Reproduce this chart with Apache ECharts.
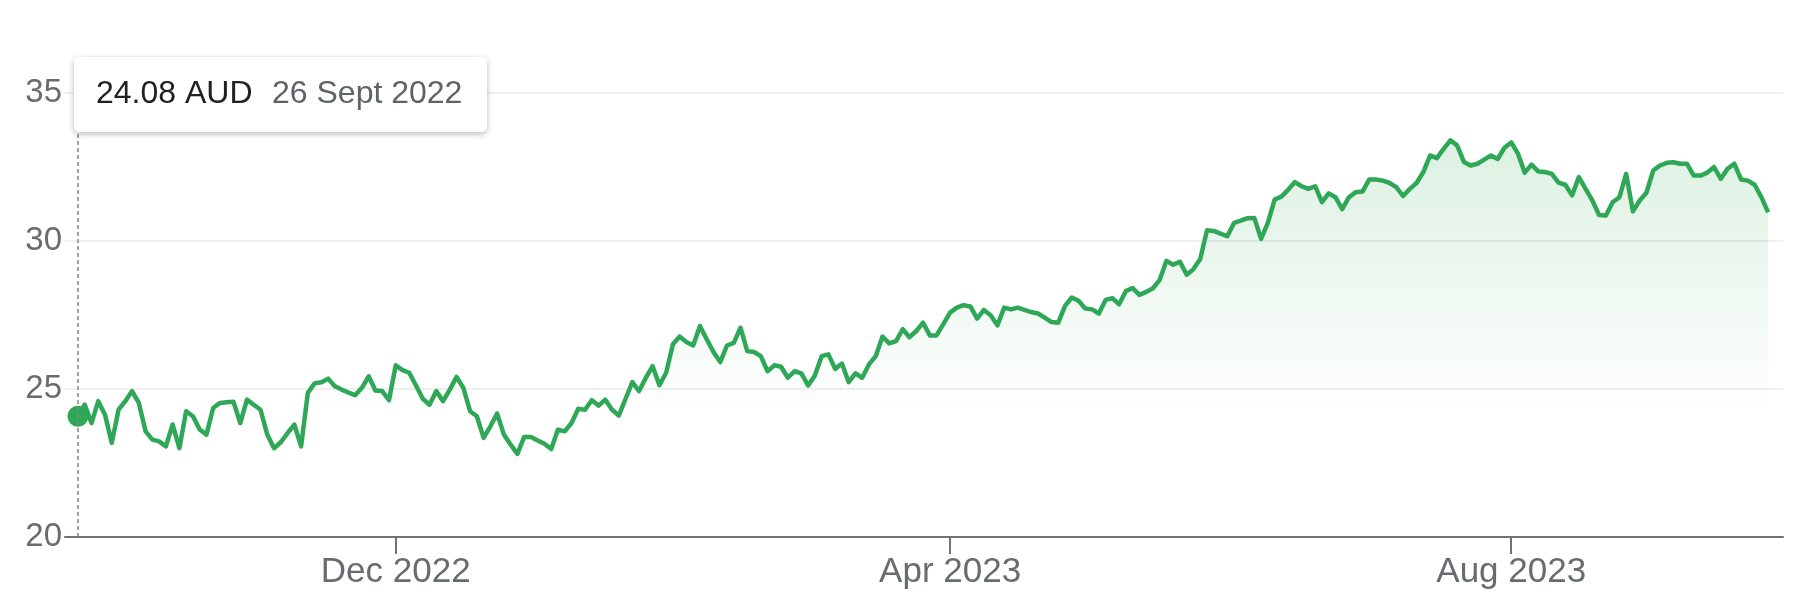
<!DOCTYPE html>
<html>
<head>
<meta charset="utf-8">
<title>AUD price chart</title>
<script src="https://cdn.jsdelivr.net/npm/echarts@6/dist/echarts.min.js"></script>
<style>
  html, body { margin: 0; padding: 0; background: #fff; }
  #price_chart { width: 1806px; height: 616px; }
</style>
</head>
<body>
<div id="price_chart"></div>
<script>
// daily closes, one value per trading day (26 Sept 2022 -> Sept 2023)
const prices = [
  24.08, 24.47, 23.85, 24.59, 24.13, 23.18, 24.30, 24.59, 24.93, 24.53,
  23.57, 23.29, 23.23, 23.06, 23.80, 23.00, 24.25, 24.08, 23.63, 23.46,
  24.36, 24.53, 24.55, 24.57, 23.85, 24.64, 24.47, 24.30, 23.46, 23.00,
  23.20, 23.51, 23.80, 23.06,
  24.87, 25.19, 25.23, 25.35, 25.09, 24.98, 24.88, 24.79, 25.04, 25.43,
  24.95, 24.93, 24.62, 25.80, 25.64, 25.55, 25.12, 24.67, 24.47, 24.93,
  24.59, 24.98, 25.41, 25.04, 24.25, 24.08, 23.35, 23.74, 24.17, 23.46,
  23.12, 22.81, 23.38, 23.38, 23.26, 23.15, 22.97, 23.63, 23.57, 23.85,
  24.33, 24.30, 24.62, 24.44,
  24.64, 24.30, 24.10, 24.67, 25.23, 24.93, 25.38, 25.77, 25.13, 25.55,
  26.51, 26.77, 26.59, 26.47, 27.13, 26.68, 26.25, 25.91, 26.47, 26.56,
  27.07, 26.28, 26.25, 26.11, 25.60, 25.80, 25.75, 25.38, 25.60, 25.53,
  25.12, 25.46, 26.11, 26.17, 25.68, 25.86, 25.23, 25.53, 25.38, 25.83,
  26.11, 26.77, 26.54, 26.62, 27.02, 26.75, 26.96, 27.24,
  26.81, 26.81, 27.19, 27.58, 27.75, 27.83, 27.79, 27.38, 27.67, 27.49,
  27.15, 27.75, 27.69, 27.75, 27.67, 27.60, 27.55, 27.41, 27.26, 27.24,
  27.81, 28.09, 27.98, 27.72, 27.69, 27.55, 28.01, 28.07, 27.86, 28.31,
  28.41, 28.18, 28.28, 28.40, 28.69, 29.33, 29.20, 29.30, 28.86, 29.05,
  29.39, 30.36, 30.34, 30.25,
  30.16, 30.61, 30.69, 30.77, 30.78, 30.07, 30.61, 31.40, 31.50, 31.73,
  31.99, 31.85, 31.76, 31.85, 31.31, 31.61, 31.48, 31.08, 31.48, 31.65,
  31.67, 32.08, 32.08, 32.04, 31.96, 31.82, 31.52, 31.76, 31.96, 32.33,
  32.89, 32.80, 33.11, 33.40, 33.23, 32.67, 32.55, 32.61, 32.75, 32.89,
  32.77, 33.15, 33.33, 32.95,
  32.31, 32.58, 32.35, 32.33, 32.27, 31.97, 31.90, 31.54, 32.16, 31.76,
  31.37, 30.88, 30.86, 31.31, 31.48, 32.27, 31.00, 31.37, 31.63, 32.38,
  32.55, 32.64, 32.66, 32.61, 32.61, 32.21, 32.21, 32.31, 32.50, 32.10,
  32.44, 32.61, 32.08, 32.04, 31.90, 31.48, 30.97
];
// trading-day index where each month label sits
const tickDays = [47, 129, 212];
const tickLabels = ['Dec 2022', 'Apr 2023', 'Aug 2023'];
const yTicks = [20, 25, 30, 35];
const currency = 'AUD';
const hoverDate = '26 Sept 2022';
const hoverIndex = 0;

const green = '#2ea856';
const greyText = '#686c71';
const font = '"Liberation Sans", Arial, sans-serif';

const lineData = prices.map((v, i) => [i, v]);

const option = {
  animation: false,
  grid: { left: 65, right: 23, top: 93, bottom: 79 },
  xAxis: {
    type: 'value',
    min: -1.92,
    max: prices.length - 1 + 2.2,
    axisLine: { show: true, lineStyle: { color: '#6f7378', width: 2 } },
    axisTick: {
      show: true,
      customValues: tickDays,
      length: 17,
      lineStyle: { color: '#6f7378', width: 2 }
    },
    axisLabel: {
      customValues: tickDays,
      margin: 18,
      color: greyText,
      fontSize: 35,
      fontFamily: font,
      formatter: (v) => tickLabels[tickDays.indexOf(v)] || ''
    },
    splitLine: { show: false }
  },
  yAxis: {
    type: 'value',
    min: yTicks[0],
    max: yTicks[yTicks.length - 1],
    interval: 5,
    axisLine: { show: false },
    axisTick: { show: false },
    axisLabel: { margin: 3, color: greyText, fontSize: 33, fontFamily: font },
    splitLine: { lineStyle: { color: '#ebebeb', width: 1.5 } }
  },
  series: [
    {
      type: 'line',
      data: lineData,
      showSymbol: false,
      smooth: false,
      lineStyle: { color: green, width: 4.5, join: 'round' },
      areaStyle: {
        color: new echarts.graphic.LinearGradient(0, 0, 0, 1, [
          { offset: 0, color: 'rgba(52,168,83,0.24)' },
          { offset: 0.7, color: 'rgba(52,168,83,0)' },
          { offset: 1, color: 'rgba(52,168,83,0)' }
        ])
      },
      markLine: {
        silent: true,
        symbol: 'none',
        label: { show: false },
        lineStyle: { color: '#80868b', type: [4, 3], width: 1.5 },
        data: [{ xAxis: hoverIndex }]
      },
      z: 2
    },
    {
      type: 'scatter',
      data: [[hoverIndex, prices[hoverIndex]]],
      symbol: 'circle',
      symbolSize: 21,
      itemStyle: { color: green, opacity: 1 },
      z: 3
    }
  ],
  graphic: [
    {
      type: 'rect',
      z: 100,
      shape: { x: 74, y: 57, width: 413, height: 75, r: 5 },
      style: {
        fill: '#fff',
        shadowBlur: 6,
        shadowOffsetY: 2,
        shadowColor: 'rgba(0,0,0,0.28)'
      }
    },
    {
      type: 'text',
      z: 101,
      x: 96,
      y: 94,
      style: {
        text: prices[hoverIndex].toFixed(2) + ' ' + currency,
        fill: '#202124',
        font: '32px ' + font,
        verticalAlign: 'middle'
      }
    },
    {
      type: 'text',
      z: 101,
      x: 272,
      y: 94,
      style: {
        text: hoverDate,
        fill: '#5f6368',
        font: '32px ' + font,
        verticalAlign: 'middle'
      }
    }
  ]
};

const chart = echarts.init(document.getElementById('price_chart'));
chart.setOption(option);
</script>
</body>
</html>
